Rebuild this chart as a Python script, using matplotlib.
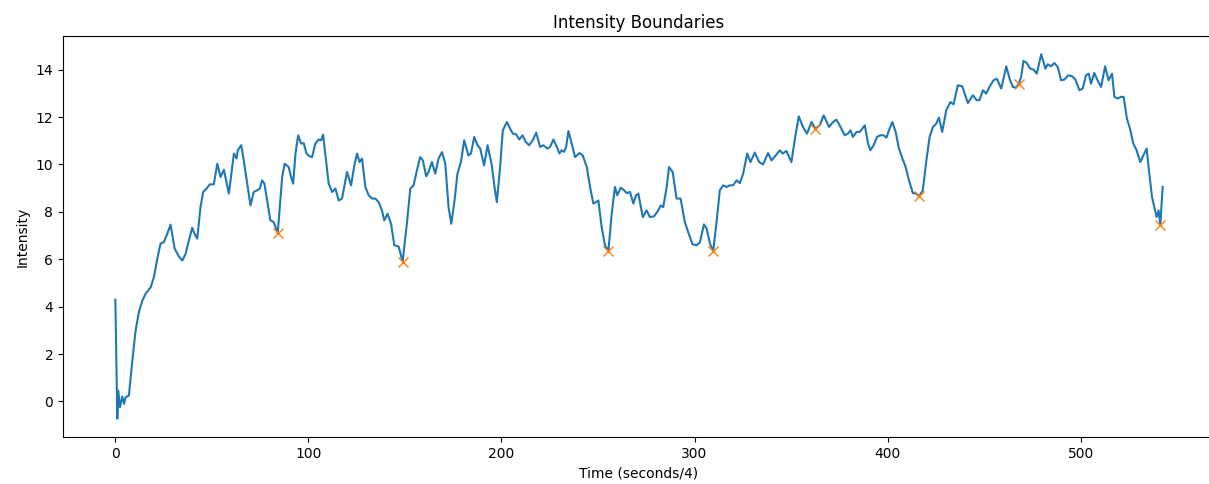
import matplotlib
matplotlib.use('Agg')
import matplotlib.pyplot as plt

# intensity trace, time in units of seconds/4
time_pts = [0, 1, 1.5, 2.4, 3.6, 4.5, 5.3, 7, 8.8, 10.5, 12.2, 14, 15.7, 18.3, 20, 21.7, 23.4, 25.1, 26.9, 28.6,
            30.7, 32.9, 34.7, 36.4, 38.1, 39.8, 41, 42.4, 44.1, 45.5, 47.2, 48.9, 51, 52.8, 54.5, 56.2, 58.8,
            61.4, 62.8, 63.4, 65.2, 66.5, 68.3, 70, 71.7, 73.5, 74.8, 76, 77.2, 78.6, 80.3, 82, 84.1, 86.4,
            87.7, 89.8, 91, 92.1, 93.3, 94.7, 96.2, 97.6, 99, 100.7, 101.9, 103.6, 105.3, 106.6, 107.6, 109.3,
            110.5, 112.3, 114, 115.7, 117.4, 120, 122.1, 123.8, 125.2, 126.5, 127.8, 129.5, 131.2, 133, 134.7,
            136.4, 138.1, 139.3, 141, 142.8, 144.5, 146.7, 148.8, 151, 152.8, 154.5, 156.2, 157.9, 159.3, 161,
            162.2, 164, 165.7, 167.4, 169.2, 170.9, 172.6, 174, 175.7, 177.2, 179, 180.7, 182.9, 184.2, 185.9,
            187.6, 189, 191, 192.8, 195, 196.4, 197.6, 199.3, 200.7, 202.8, 204.5, 205.9, 207.6, 209.2, 210.9,
            212.6, 214.3, 216.2, 218, 220, 221.7, 223.8, 225.2, 226.9, 228.7, 230, 231.2, 232.4, 233.5, 234.7,
            236.4, 238.1, 240.4, 242.1, 244.2, 245.9, 247.6, 249, 250.2, 251.9, 253.6, 255.4, 257.1, 258.8, 260,
            261.8, 263.5, 264.9, 266.6, 268.3, 269.7, 270.9, 273.2, 275.2, 276.9, 279, 281.2, 282.5, 283.8,
            285.6, 286.8, 288.7, 290.7, 292.8, 295, 296.7, 299, 301.1, 302.8, 304.9, 306.3, 308, 309.7, 311.7,
            313.1, 314.9, 316.6, 318.3, 320, 321.8, 323.5, 325.2, 327.3, 329, 331.2, 333.5, 335.5, 338.1, 339.9,
            342.1, 344.2, 345.6, 347.6, 350.2, 351.9, 354, 356.2, 358.3, 360.6, 362.6, 364.9, 366.9, 369.7,
            371.8, 373.5, 375.2, 377.8, 379.5, 380.8, 382.1, 383.9, 385.6, 388.2, 389.9, 391.1, 392.8, 394.5,
            396.3, 398, 399.4, 401.1, 402.5, 404.2, 405.9, 407.7, 409.4, 411.1, 413.1, 414.9, 416.3, 418.3,
            420.1, 421.8, 423.5, 425.2, 426.6, 428.3, 430.4, 432.5, 434.2, 436.4, 438.7, 441.6, 444.2, 446.2,
            447.6, 449.4, 451.1, 452.8, 454.9, 456.6, 458.9, 461.5, 463.2, 464.9, 466.6, 468, 469.2, 470.4,
            472.1, 473.9, 475.7, 477.3, 479.6, 481.8, 483, 484.7, 486.4, 488.2, 489.9, 491.6, 493.6, 495.6,
            497.3, 499.4, 501.1, 502.8, 504.2, 505.4, 507.1, 508.8, 510.6, 512.7, 514.5, 516.3, 517.5, 519.2,
            520.9, 522.3, 524, 525.6, 527.3, 529, 530.9, 532.5, 534.2, 535.6, 537, 538.2, 539.4, 540.4, 541.3,
            542.5]

intensity = [4.3, -0.73, 0.46, -0.24, 0.21, -0.1, 0.18, 0.25, 1.73, 3.0, 3.77, 4.26, 4.55, 4.82, 5.25, 6.02, 6.66,
             6.72, 7.08, 7.46, 6.45, 6.12, 5.95, 6.23, 6.8, 7.33, 7.08, 6.87, 8.2, 8.84, 8.98, 9.16, 9.16, 10.03,
             9.47, 9.78, 8.77, 10.46, 10.25, 10.6, 10.81, 10.17, 9.19, 8.27, 8.84, 8.91, 8.98, 9.33, 9.19, 8.48,
             7.64, 7.57, 7.1, 9.47, 10.03, 9.89, 9.47, 9.19, 10.46, 11.23, 10.88, 10.9, 10.46, 10.34, 10.31,
             10.88, 11.05, 11.02, 11.26, 10.03, 9.19, 8.84, 8.98, 8.48, 8.56, 9.68, 9.12, 9.96, 10.46, 10.1,
             10.25, 9.05, 8.7, 8.56, 8.56, 8.41, 8.06, 7.64, 7.92, 7.5, 6.59, 6.54, 5.9, 7.5, 8.98, 9.12, 9.75,
             10.31, 10.17, 9.5, 9.68, 10.1, 9.61, 10.25, 10.52, 10.03, 8.2, 7.5, 8.48, 9.61, 10.1, 11.02, 10.38,
             10.46, 11.16, 10.81, 10.67, 9.96, 10.81, 9.96, 9.05, 8.41, 9.89, 11.44, 11.79, 11.51, 11.3, 11.27,
             11.05, 11.23, 10.95, 10.81, 11.02, 11.34, 10.74, 10.81, 10.67, 10.74, 11.05, 10.74, 10.46, 10.6,
             10.53, 10.74, 11.41, 10.88, 10.31, 10.48, 10.38, 9.89, 9.05, 8.35, 8.41, 8.48, 7.36, 6.59, 6.35,
             7.92, 9.05, 8.7, 9.02, 8.91, 8.79, 8.84, 8.35, 8.7, 8.77, 7.78, 8.06, 7.78, 7.81, 8.06, 8.27, 8.2,
             9.05, 9.89, 9.68, 8.56, 8.56, 7.57, 7.15, 6.63, 6.59, 6.72, 7.47, 7.29, 6.66, 6.34, 7.78, 8.91,
             9.12, 9.05, 9.12, 9.12, 9.33, 9.21, 9.61, 10.46, 10.1, 10.5, 10.1, 10.0, 10.48, 10.17, 10.38, 10.6,
             10.46, 10.57, 10.1, 11.02, 12.03, 11.58, 11.3, 11.79, 11.51, 11.65, 12.07, 11.58, 11.79, 11.89,
             11.65, 11.23, 11.3, 11.44, 11.16, 11.37, 11.37, 11.65, 10.88, 10.6, 10.81, 11.16, 11.23, 11.23,
             11.13, 11.51, 11.79, 11.37, 10.67, 10.25, 9.89, 9.33, 8.79, 8.77, 8.65, 8.91, 10.17, 11.16, 11.58,
             11.72, 11.98, 11.37, 12.28, 12.63, 12.54, 13.34, 13.3, 12.59, 12.92, 12.71, 12.71, 13.13, 12.99,
             13.27, 13.55, 13.62, 13.2, 14.14, 13.62, 13.27, 13.24, 13.41, 13.69, 14.37, 14.28, 14.04, 14.0,
             13.83, 14.65, 14.04, 14.23, 14.14, 14.28, 14.11, 13.55, 13.58, 13.76, 13.72, 13.58, 13.13, 13.2,
             13.76, 13.83, 13.41, 13.86, 13.55, 13.27, 14.14, 13.55, 13.83, 12.85, 12.78, 12.85, 12.85, 11.93,
             11.51, 10.88, 10.6, 10.1, 10.38, 10.67, 9.61, 8.62, 8.2, 7.78, 8.06, 7.45, 9.05]

# detected segment boundaries
boundary_t = [84.1, 148.8, 255.4, 309.7, 362.6, 416.3, 468, 541.3]
boundary_val = [7.1, 5.9, 6.35, 6.34, 11.51, 8.65, 13.41, 7.45]

fig = plt.figure(figsize=(12.09, 4.84), dpi=100)
ax = fig.add_axes([63 / 1209, 47 / 484, (1215 - 63) / 1209, 401 / 484])
ax.plot(time_pts, intensity)
ax.plot(boundary_t, boundary_val, 'x', markersize=7)
ax.set_title('Intensity Boundaries')
ax.set_xlabel('Time (seconds/4)')
ax.set_ylabel('Intensity')
fig.savefig('out.png', dpi=100)
